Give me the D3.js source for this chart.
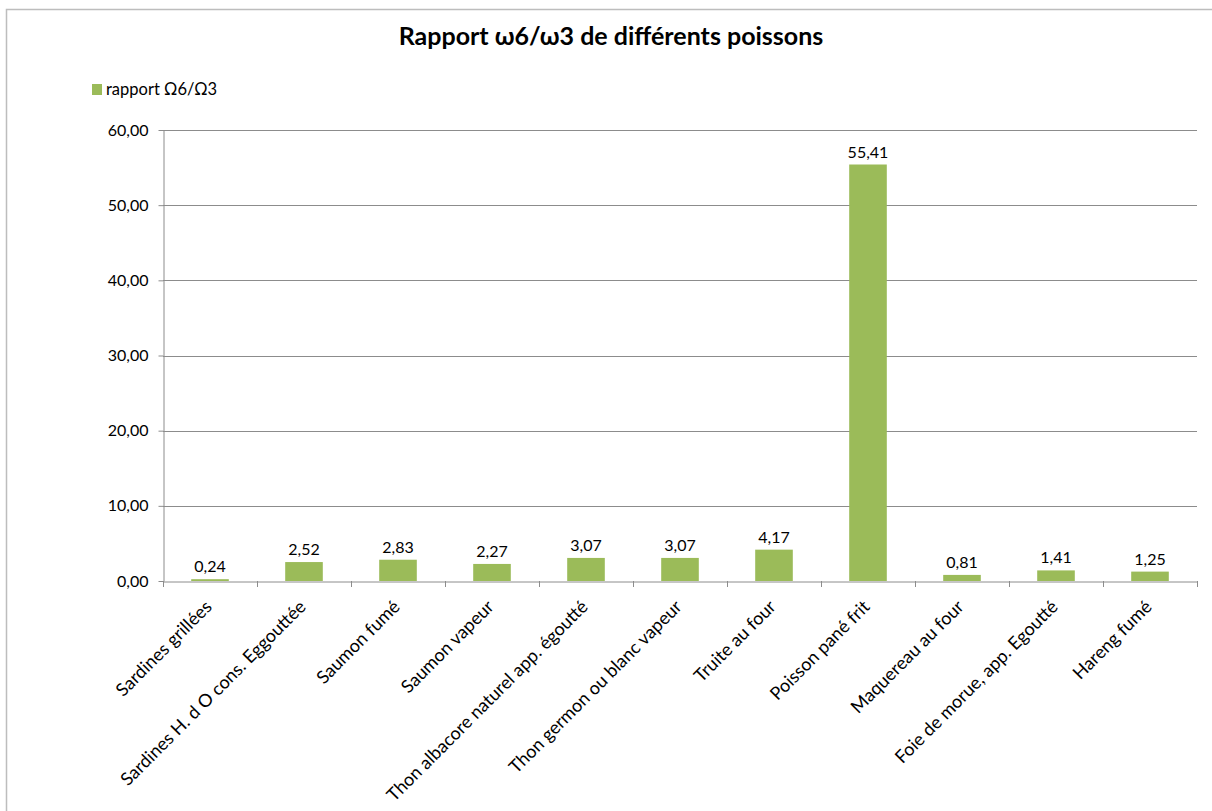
<!DOCTYPE html>
<html>
<head>
<meta charset="utf-8">
<script src="https://cdn.jsdelivr.net/npm/d3@7"></script>
<style>
  html, body { margin: 0; padding: 0; background: #fff; }
  svg { display: block; font-family: Lato, "Open Sans", "Liberation Sans", sans-serif; }
</style>
</head>
<body>
<svg id="chart" width="1212" height="811"></svg>
<script>
const title = "Rapport \u03C96/\u03C93 de différents poissons";
const seriesName = "rapport \u03A96/\u03A93";
const categories = [
  "Sardines grillées",
  "Sardines H. d O cons. Eggouttée",
  "Saumon fumé",
  "Saumon vapeur",
  "Thon albacore naturel app. égoutté",
  "Thon germon ou blanc vapeur",
  "Truite au four",
  "Poisson pané frit",
  "Maquereau au four",
  "Foie de morue, app. Egoutté",
  "Hareng fumé"
];
const values = [0.24, 2.52, 2.83, 2.27, 3.07, 3.07, 4.17, 55.41, 0.81, 1.41, 1.25];
const yTicks = [0, 10, 20, 30, 40, 50, 60];

const svg = d3.select("#chart");
const fmt = v => d3.format(".2f")(v).replace(".", ",");

// outer frame
svg.append("path")
  .attr("d", "M6.5,811 L6.5,9.5 L1212,9.5")
  .attr("fill", "none").attr("stroke", "#bdbdbd").attr("stroke-width", 1.5);

const pL = 163, pR = 1197, pT = 130, pB = 581;
const x = d3.scaleBand().domain(categories).range([pL, pR]).paddingInner(0.6).paddingOuter(0.3);
const xb = d3.scaleBand().domain(categories).range([pL, pR]);
const y = d3.scaleLinear().domain([0, 60]).range([pB, pT]);

// gridlines
svg.append("g").selectAll("line").data(yTicks.slice(1)).join("line")
  .attr("x1", pL).attr("x2", pR)
  .attr("y1", d => Math.round(y(d)) + 0.5).attr("y2", d => Math.round(y(d)) + 0.5)
  .attr("stroke", "#8c8c8c").attr("stroke-width", 1);

// y axis
const yAxis = d3.axisLeft(y).tickValues(yTicks).tickFormat(fmt).tickSize(5).tickSizeOuter(0).tickPadding(10);
const gy = svg.append("g").attr("transform", `translate(${pL + 0.5},0)`).call(yAxis);
gy.selectAll("path,line").attr("stroke", "#8c8c8c");
gy.selectAll("text").attr("font-size", 16).attr("fill", "#000").attr("font-family", "Lato, sans-serif");

// bars
svg.append("g").selectAll("rect").data(values).join("rect")
  .attr("x", (d, i) => x(categories[i]))
  .attr("width", x.bandwidth())
  .attr("y", d => y(d))
  .attr("height", d => y(0) - y(d))
  .attr("fill", "#9bbb59");

// data labels
svg.append("g").selectAll("text").data(values).join("text")
  .attr("x", (d, i) => x(categories[i]) + x.bandwidth() / 2)
  .attr("y", d => y(d) - 7)
  .attr("text-anchor", "middle")
  .attr("font-size", 16)
  .text(d => fmt(d));

// x axis
const xAxis = d3.axisBottom(xb).tickSize(0).tickSizeOuter(0).tickFormat("");
const gx = svg.append("g").attr("transform", `translate(0,${pB + 0.5})`).call(xAxis);
gx.select(".domain").attr("stroke", "#8c8c8c");
// tick marks at category boundaries
svg.append("g").selectAll("line").data(d3.range(categories.length + 1)).join("line")
  .attr("x1", i => Math.round(pL + i * xb.step()) + 0.5)
  .attr("x2", i => Math.round(pL + i * xb.step()) + 0.5)
  .attr("y1", pB).attr("y2", pB + 6)
  .attr("stroke", "#8c8c8c");

// category labels
svg.append("g").selectAll("text").data(categories).join("text")
  .attr("transform", d => `translate(${xb(d) + xb.bandwidth() / 2 - 6},${pB + 18}) rotate(-45)`)
  .attr("text-anchor", "end")
  .attr("dy", "0.7em")
  .attr("font-size", 18)
  .text(d => d);

// title
svg.append("text")
  .attr("x", 611).attr("y", 45)
  .attr("text-anchor", "middle")
  .attr("font-size", 25).attr("font-weight", "bold")
  .text(title);

// legend
svg.append("rect").attr("x", 92).attr("y", 84).attr("width", 10).attr("height", 11).attr("fill", "#9bbb59");
svg.append("text").attr("x", 106).attr("y", 95).attr("font-size", 16.5).text(seriesName);
</script>
</body>
</html>
